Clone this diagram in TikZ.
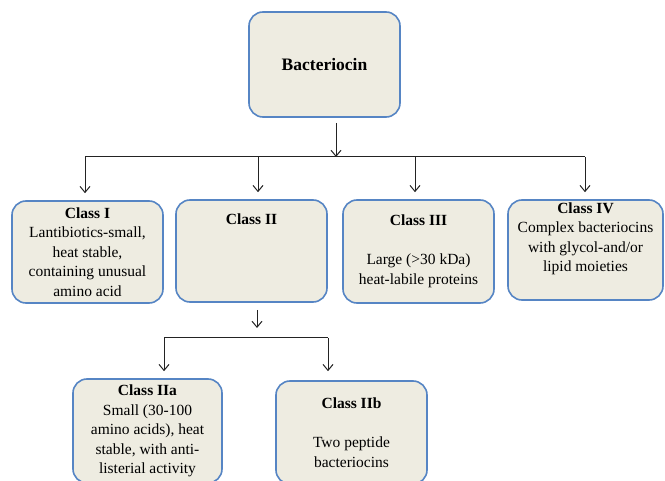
\documentclass[tikz,border=0pt]{standalone}
\usepackage{fontspec}
\setmainfont{Liberation Serif}
\usepackage{tikz}
\usetikzlibrary{arrows.meta}
\usepackage{xcolor}
\definecolor{boxblue}{RGB}{86,133,196}
\definecolor{boxfill}{RGB}{238,236,225}
\definecolor{linegray}{RGB}{35,35,35}
\tikzset{
    classbox/.style={draw=boxblue, line width=1.6pt, fill=boxfill, rounded corners=14pt,
        minimum width=151pt, minimum height=102pt, align=center, inner sep=2pt,
        font=\fontsize{15.5}{19.5}\selectfont},
    wire/.style={draw=linegray, line width=1pt},
    link/.style={wire, -{Straight Barb[length=6pt, width=10pt, line width=1pt]}}
}

\begin{document}
\begin{tikzpicture}[x=1pt, y=-1pt]
        \useasboundingbox (0,0) rectangle (665,481);
        \node[classbox, minimum height=105pt, font=\fontsize{17.5}{21}\selectfont\bfseries] (bac) at (324.5,64.5) {Bacteriocin};
        \node[classbox] (c1) at (87.5,252) {\textbf{Class I}\\Lantibiotics-small,\\heat stable,\\containing unusual\\amino acid};
        \node[classbox] (c2) at (251.5,251) {\textbf{Class II}\\\strut\\\strut\\\strut};
        \node[classbox, minimum height=103pt] (c3) at (418.5,251.5) {\textbf{Class III}\\\strut\\Large (>30 kDa)\\heat-labile proteins};
        \node[classbox, minimum width=155pt, minimum height=100pt] (c4) at (585.5,250) {\textbf{Class IV}\\Complex bacteriocins\\with glycol-and/or\\lipid moieties\\\strut};
        \node[classbox, minimum width=149pt, minimum height=104pt] (c2a) at (147.5,431) {\textbf{Class IIa}\\Small (30-100\\amino acids), heat\\stable, with anti-\\listerial activity};
        \node[classbox, minimum height=103pt] (c2b) at (351.5,432.5) {\textbf{Class IIb}\\\strut\\Two peptide\\bacteriocins};

        % first level
        \coordinate (split) at (336,157);
        \coordinate (b1) at (85,157);
        \coordinate (b2) at (258,157);
        \coordinate (b3) at (415,157);
        \coordinate (b4) at (585,157);
        \draw[link] (split |- bac.south) ++(0,5) -- (split);
        \draw[wire] (b1) -- (b4);
        \draw[link, shorten >=7pt] (b1) -- (b1 |- c1.north);
        \draw[link, shorten >=7pt] (b2) -- (b2 |- c2.north);
        \draw[link, shorten >=7pt] (b3) -- (b3 |- c3.north);
        \draw[link, shorten >=7pt] (b4) -- (b4 |- c4.north);

        % class II split
        \coordinate (split2) at (257,328);
        \coordinate (b2a) at (164,338);
        \coordinate (b2b) at (328,338);
        \draw[link] (split2 |- c2.south) ++(0,7) -- (split2);
        \draw[wire] (b2a) -- (b2b);
        \draw[link, shorten >=7pt] (b2a) -- (b2a |- c2a.north);
        \draw[link, shorten >=9pt] (b2b) -- (b2b |- c2b.north);
    \end{tikzpicture}
\end{document}
